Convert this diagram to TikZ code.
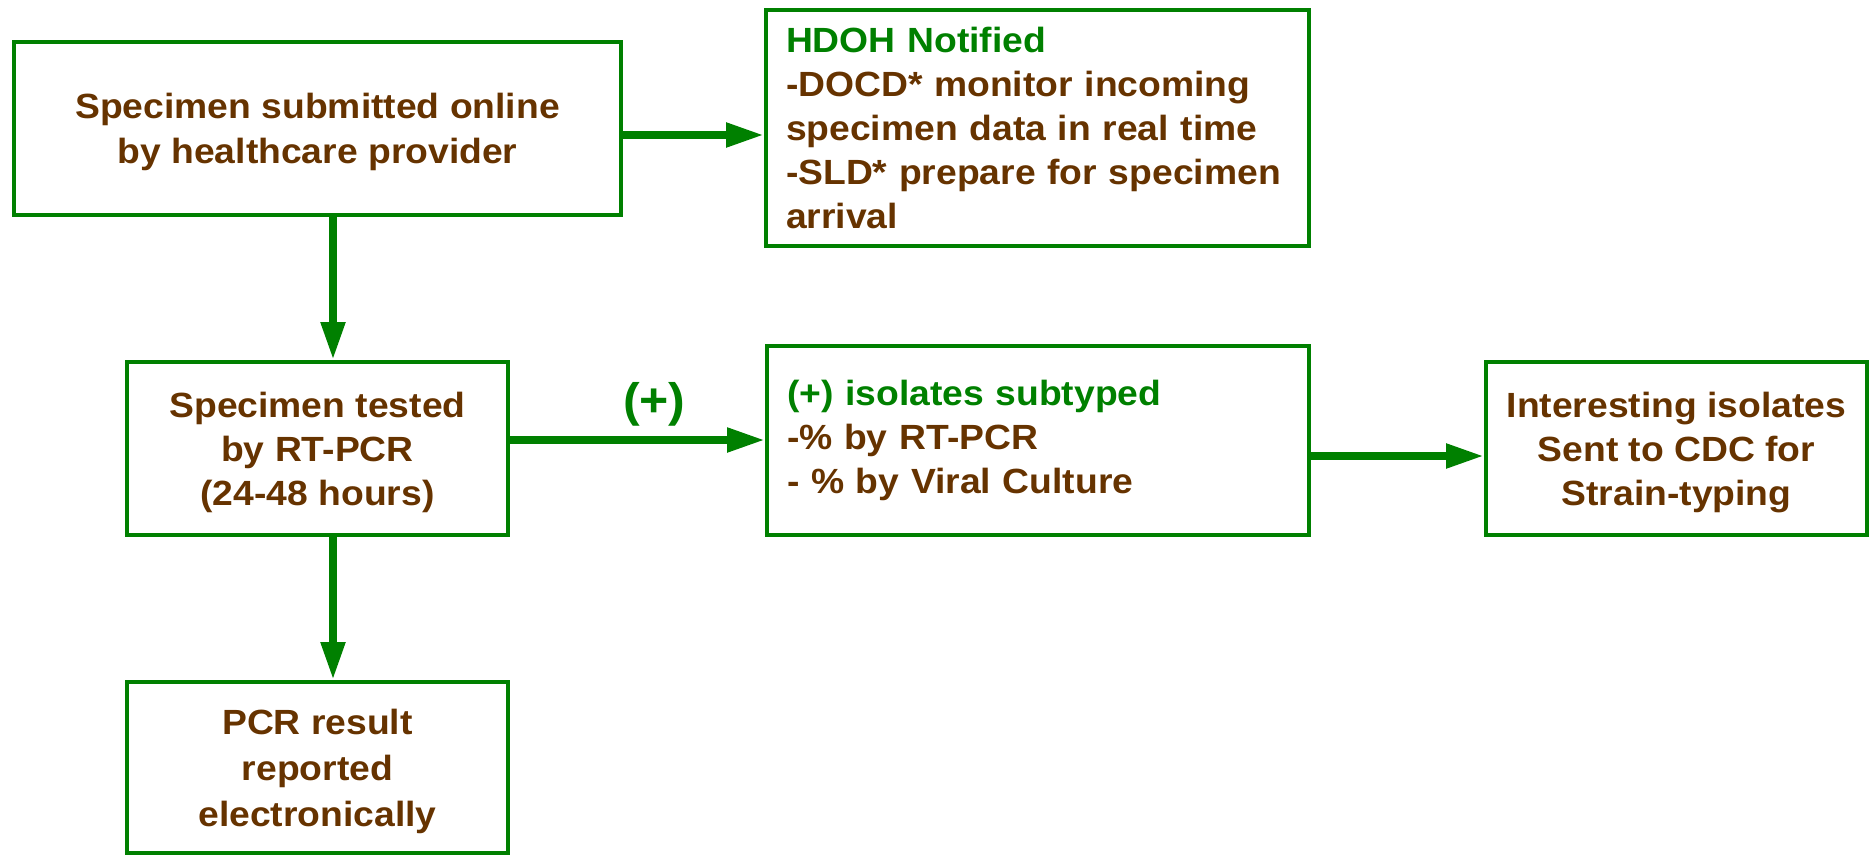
\documentclass[tikz,border=0pt]{standalone}
\usepackage{fontspec}
\setmainfont{Liberation Sans}[FakeStretch=1.065]
\usetikzlibrary{arrows.meta}
\definecolor{grn}{RGB}{0,128,0}
\definecolor{brn}{RGB}{102,51,0}
\begin{document}
\begin{tikzpicture}[x=1pt,y=-1pt,
  box/.style={draw=grn, line width=4pt, text=brn, font=\fontsize{35}{44}\selectfont\bfseries, inner sep=0pt},
  cbox/.style={box, align=center, text depth=0pt},
  lbox/.style={box, align=left, inner xsep=20pt},
  arr/.style={draw=grn, line width=8pt, -{Triangle[length=38pt,width=23pt]}},
  lbl/.style={text=grn, font=\fontsize{47}{56}\selectfont\bfseries}]
\useasboundingbox (0,0) rectangle (1873,856);
\node[cbox, minimum width=607pt, minimum height=173pt] (b1) at (317.5,128.5)
  {Specimen submitted online\\[1pt]by healthcare provider};
\node[lbox, text width=503pt, minimum height=236pt] (hdoh) at (1037.5,128)
  {\textcolor{grn}{HDOH Notified}\\-DOCD* monitor incoming\\specimen data in real time\\-SLD* prepare for specimen\\arrival};
\node[cbox, minimum width=381pt, minimum height=173pt] (b2) at (317.5,448.5)
  {Specimen tested\\by RT-PCR\\(24-48 hours)};
\node[lbox, text width=502pt, minimum height=189pt] (b3) at (1038,440.5)
  {\textcolor{grn}{(+) isolates subtyped}\\-\% by RT-PCR\\- \% by Viral Culture};
\node[cbox, minimum width=381pt, minimum height=173pt] (b4) at (1676.5,448.5)
  {Interesting isolates\\Sent to CDC for\\Strain-typing};
\node[cbox, minimum width=381pt, minimum height=171pt] (b5) at (317.5,767.5)
  {PCR result\\[2pt]reported\\[2pt]electronically};
\draw[arr] ([yshift=-6.5pt]b1.east) -- ([yshift=-7pt]hdoh.west);
\draw[arr] ([xshift=15.5pt]b1.south) -- ([xshift=15.5pt]b2.north);
\draw[arr] ([yshift=8.5pt]b2.east) -- node[lbl, pos=0.566, yshift=36pt] (plus) {(+)} ([yshift=0.5pt]b3.west);
\draw[arr] ([yshift=-15.5pt]b3.east) -- ([yshift=-7.5pt]b4.west);
\draw[arr] ([xshift=15.5pt]b2.south) -- ([xshift=15.5pt]b5.north);
\end{tikzpicture}
\end{document}
